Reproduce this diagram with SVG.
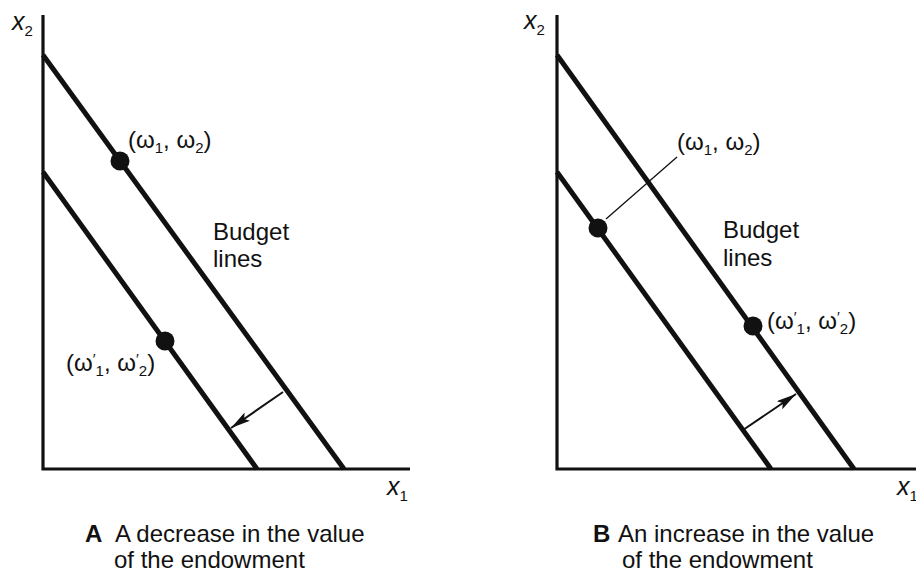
<svg xmlns="http://www.w3.org/2000/svg" width="916" height="573" viewBox="0 0 916 573">
<style>
text{font-family:"Liberation Sans","DejaVu Sans",sans-serif;fill:#111}
.lbl{font-size:24px}
.cap{font-size:24px}
.bold{font-weight:bold}
.ax{stroke:#111;stroke-width:3.2;fill:none}
.bl{stroke:#111;stroke-width:5;fill:none}
.th{stroke:#111;stroke-width:2;fill:none}
.dot{fill:#111}
.var{font-family:"Liberation Sans",sans-serif;font-style:italic;font-size:25px}
.sub{font-size:15px}
.pr{font-size:15px}
</style>
<defs>
<marker id="ah" viewBox="0 0 20 10" refX="20" refY="5" markerWidth="20" markerHeight="10" markerUnits="userSpaceOnUse" orient="auto">
<path d="M0,0 L20,5 L0,10 L4,5 Z" fill="#111"/>
</marker>
</defs>
<rect width="916" height="573" fill="#fff"/>

<g id="panelA">
  <g id="axesA">
    <path class="ax" d="M43,15 V469 H410"/>
    <text class="var" x="12" y="30">x<tspan class="sub" dy="6" font-style="normal">2</tspan></text>
    <text class="var" x="387" y="495">x<tspan class="sub" dy="6" font-style="normal">1</tspan></text>
  </g>
  <g id="budgetA">
    <line class="bl" x1="43" y1="55" x2="344" y2="469"/>
    <line class="bl" x1="43" y1="172" x2="257" y2="469"/>
  </g>
  <g id="endowA">
    <circle class="dot" cx="120" cy="161" r="9.5"/>
    <text class="lbl" x="128" y="148">(ω<tspan class="sub" dy="5">1</tspan><tspan dy="-5">, ω</tspan><tspan class="sub" dy="5">2</tspan><tspan dy="-5">)</tspan></text>
  </g>
  <g id="endowA2">
    <circle class="dot" cx="165" cy="341" r="9.5"/>
    <text class="lbl" x="66" y="371">(ω<tspan class="pr" dy="-7">′</tspan><tspan class="sub" dy="12">1</tspan><tspan dy="-5">, ω</tspan><tspan class="pr" dy="-7">′</tspan><tspan class="sub" dy="12">2</tspan><tspan dy="-5">)</tspan></text>
  </g>
  <g id="labelA">
    <text class="cap" x="213" y="240">Budget</text>
    <text class="cap" x="213" y="267">lines</text>
  </g>
  <g id="captionA">
    <text class="cap" x="85" y="542"><tspan class="bold">A</tspan><tspan x="115">A decrease in the value</tspan></text>
    <text class="cap" x="114" y="568">of the endowment</text>
  </g>
</g>

<g id="panelB">
  <g id="axesB">
    <path class="ax" d="M557,15 V469 H916"/>
    <text class="var" x="524" y="29">x<tspan class="sub" dy="6" font-style="normal">2</tspan></text>
    <text class="var" x="897" y="495">x<tspan class="sub" dy="6" font-style="normal">1</tspan></text>
  </g>
  <g id="budgetB">
    <line class="bl" x1="557" y1="55" x2="854" y2="469"/>
    <line class="bl" x1="557" y1="172" x2="771" y2="469"/>
  </g>
  <g id="endowB">
    <circle class="dot" cx="598" cy="228" r="9.5"/>
    <text class="lbl" x="677" y="150">(ω<tspan class="sub" dy="5">1</tspan><tspan dy="-5">, ω</tspan><tspan class="sub" dy="5">2</tspan><tspan dy="-5">)</tspan></text>
  </g>
  <g id="endowB2">
    <circle class="dot" cx="753" cy="326" r="9.5"/>
    <text class="lbl" x="767" y="329">(ω<tspan class="pr" dy="-7">′</tspan><tspan class="sub" dy="12">1</tspan><tspan dy="-5">, ω</tspan><tspan class="pr" dy="-7">′</tspan><tspan class="sub" dy="12">2</tspan><tspan dy="-5">)</tspan></text>
  </g>
  <g id="labelB">
    <text class="cap" x="723" y="238">Budget</text>
    <text class="cap" x="723" y="266">lines</text>
  </g>
  <g id="captionB">
    <text class="cap" x="593" y="542"><tspan class="bold">B</tspan><tspan x="618">An increase in the value</tspan></text>
    <text class="cap" x="622" y="568">of the endowment</text>
  </g>
</g>

<g id="connectors">
  <line class="th" x1="283" y1="392" x2="231" y2="428" marker-end="url(#ah)"/>
  <line class="th" x1="743" y1="430" x2="796" y2="394" marker-end="url(#ah)"/>
  <line stroke="#111" stroke-width="1.3" x1="606" y1="219" x2="677" y2="157"/>
</g>
</svg>
